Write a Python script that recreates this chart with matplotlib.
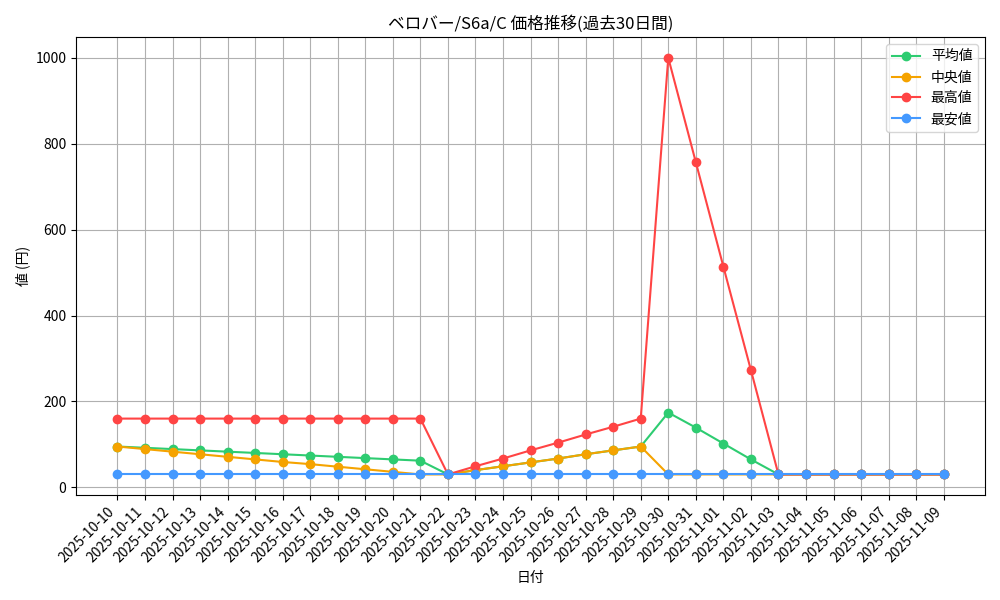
import matplotlib
matplotlib.use("Agg")
import matplotlib.pyplot as plt
import pandas as pd

plt.rcParams['font.family'] = ['Noto Sans CJK JP', 'DejaVu Sans']

dates = [d.strftime('%Y-%m-%d') for d in pd.date_range('2025-10-10', '2025-11-09')]
avg_vals = [95, 92, 89, 86, 83, 80, 77, 74, 71, 68, 65, 62, 30, 40, 49, 58, 67, 77, 86, 95,
            174, 139, 102, 65, 30, 30, 30, 30, 30, 30, 30]
med_vals = [95, 89, 83, 77, 71, 65, 59, 54, 48, 42, 36, 30, 30, 40, 49, 58, 67, 77, 86, 95,
            30, 30, 30, 30, 30, 30, 30, 30, 30, 30, 30]
max_vals = [160] * 12 + [30, 49, 67, 86, 104, 123, 141, 160, 1000, 757, 514, 273] + [30] * 7
min_vals = [30] * 31

fig, ax = plt.subplots(figsize=(10, 6), dpi=100)
x = range(len(dates))
ax.plot(x, avg_vals, marker='o', color='#2ecc71', label='平均値')
ax.plot(x, med_vals, marker='o', color='#f5a300', label='中央値')
ax.plot(x, max_vals, marker='o', color='#ff4444', label='最高値')
ax.plot(x, min_vals, marker='o', color='#4499ff', label='最安値')
ax.set_xticks(list(x))
ax.set_xticklabels(dates, rotation=45, ha='right')
ax.set_title('ベロバー/S6a/C 価格推移(過去30日間)')
ax.set_xlabel('日付')
ax.set_ylabel('値 (円)')
ax.grid(True)
ax.legend(loc='upper right')
fig.tight_layout()
fig.savefig('out.png')
